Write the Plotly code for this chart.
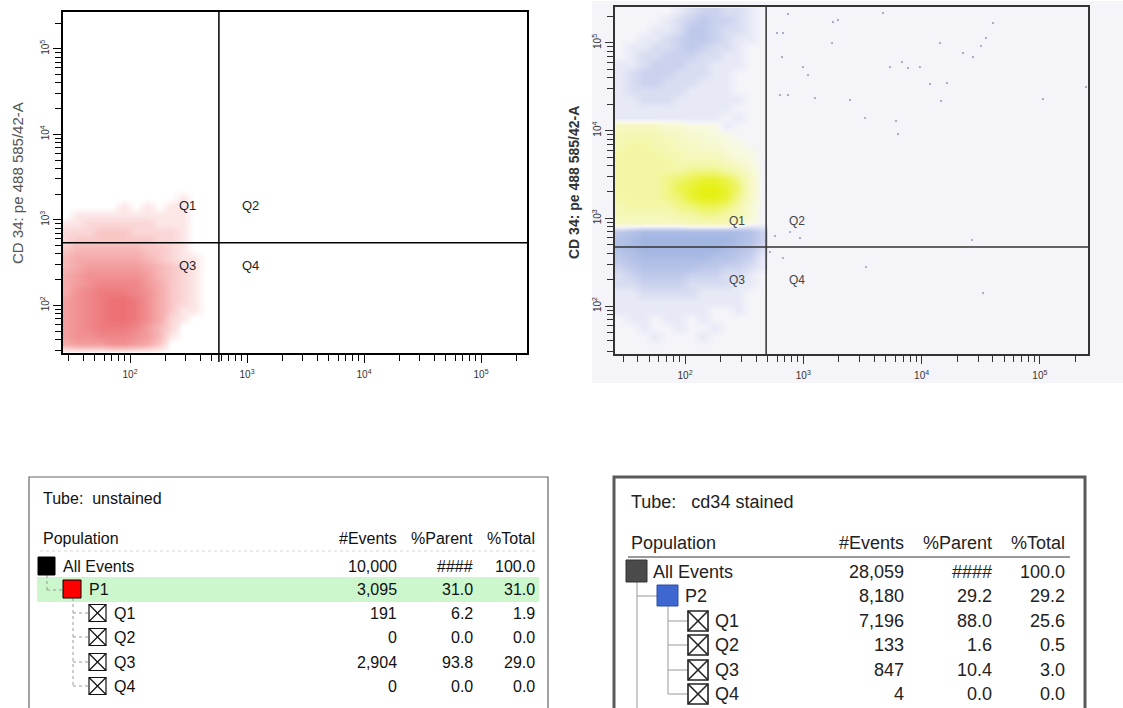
import numpy as np
import plotly.graph_objects as go

W, H = 1123, 708

# ------------------------------------------------------------------ data
# axis ticks (log10 units of fluorescence intensity)
decade_ticks = [2, 3, 4, 5]
decade_labels = ["10<sup>2</sup>", "10<sup>3</sup>", "10<sup>4</sup>", "10<sup>5</sup>"]
minor_tick_values = [30, 40, 50, 60, 70, 80, 90,
                     200, 300, 400, 500, 600, 700, 800, 900,
                     2000, 3000, 4000, 5000, 6000, 7000, 8000, 9000,
                     20000, 30000, 40000, 50000, 60000, 70000, 80000, 90000,
                     200000]

# ---- unstained tube: event density (relative, 0-10) on a 0.1-decade grid
red_x = [1.45, 1.55, 1.65, 1.75, 1.85, 1.95, 2.05, 2.15, 2.25, 2.35, 2.45, 2.55, 2.65]
red_y = [1.45, 1.55, 1.65, 1.75, 1.85, 1.95, 2.05, 2.15, 2.25, 2.35,
         2.45, 2.55, 2.65, 2.75, 2.85, 2.95, 3.05, 3.15, 3.25, 3.35]
red_density = [
    [0, 0, 0, 0, 0, 0, 0, 0, 0, 0, 0, 0, 0],
    [5, 6, 6, 6, 7, 7, 6, 5, 3, 0, 0, 0, 0],
    [6, 7, 7, 8, 8, 8, 7, 6, 4, 1, 0, 0, 0],
    [6, 7, 8, 9, 9, 9, 8, 6, 4, 2, 0, 0, 0],
    [6, 7, 8, 9, 10, 10, 9, 7, 5, 2, 1, 0, 0],
    [6, 7, 8, 9, 10, 10, 9, 7, 5, 3, 1, 1, 0],
    [6, 7, 8, 9, 10, 10, 9, 7, 5, 3, 2, 1, 0],
    [5, 7, 8, 9, 9, 9, 8, 7, 5, 3, 2, 1, 0],
    [5, 6, 7, 8, 8, 8, 8, 6, 5, 3, 2, 1, 0],
    [5, 6, 7, 7, 7, 7, 7, 6, 4, 3, 2, 1, 0],
    [4, 5, 6, 6, 6, 6, 6, 5, 4, 3, 2, 1, 0],
    [4, 5, 5, 5, 5, 5, 5, 4, 3, 2, 1, 1, 0],
    [3, 4, 4, 4, 4, 4, 4, 3, 3, 2, 1, 0, 0],
    [2, 3, 3, 3, 3, 3, 3, 3, 2, 2, 1, 0, 0],
    [2, 2, 2, 3, 3, 3, 2, 2, 2, 2, 1, 0, 0],
    [1, 1, 2, 2, 2, 2, 2, 2, 1, 1, 1, 0, 0],
    [0, 1, 1, 1, 1, 1, 1, 1, 1, 1, 1, 0, 0],
    [0, 0, 0, 0, 0, 1, 0, 1, 0, 1, 1, 0, 0],
    [0, 0, 0, 0, 0, 0, 0, 0, 0, 0, 1, 0, 0],
    [0, 0, 0, 0, 0, 0, 0, 0, 0, 0, 0, 0, 0],
]
unstained_gate_x = 575
unstained_gate_y = 540

# ---- cd34 stained tube
stain_x = [1.45, 1.55, 1.65, 1.75, 1.85, 1.95, 2.05, 2.15, 2.25, 2.35, 2.45, 2.55, 2.65]
blue_top_y = [3.95, 4.05, 4.15, 4.25, 4.35, 4.45, 4.55, 4.65, 4.75, 4.85,
              4.95, 5.05, 5.15, 5.25, 5.35]
blue_top_density = [
    [0, 0, 0, 0, 0, 0, 0, 0, 0, 0, 0, 0, 0],
    [1, 1, 1, 1, 1, 1, 1, 1, 0, 1, 0, 0, 0],
    [1, 1, 1, 1, 1, 1, 1, 1, 1, 0, 1, 0, 0],
    [1, 1, 1, 1, 1, 1, 1, 1, 1, 1, 0, 0, 0],
    [1, 1, 2, 2, 2, 1, 1, 1, 1, 1, 1, 0, 0],
    [1, 2, 2, 2, 2, 2, 1, 1, 1, 1, 0, 0, 0],
    [1, 2, 3, 3, 2, 2, 2, 1, 1, 1, 0, 0, 0],
    [1, 2, 3, 3, 3, 2, 2, 2, 1, 1, 0, 0, 0],
    [1, 1, 2, 3, 3, 3, 2, 2, 1, 1, 1, 0, 0],
    [0, 1, 2, 2, 3, 3, 3, 2, 2, 1, 1, 0, 0],
    [0, 1, 1, 2, 2, 3, 4, 3, 2, 2, 1, 0, 0],
    [0, 0, 1, 1, 2, 3, 4, 4, 3, 2, 1, 1, 0],
    [0, 0, 0, 1, 1, 2, 4, 4, 3, 2, 2, 1, 0],
    [0, 0, 0, 0, 1, 2, 3, 4, 3, 3, 2, 1, 0],
    [0, 0, 0, 0, 0, 1, 2, 3, 3, 2, 2, 1, 0],
]
yellow_y = [2.85, 2.95, 3.05, 3.15, 3.25, 3.35, 3.45, 3.55, 3.65, 3.75, 3.85, 3.95, 4.05]
yellow_density = [
    [1, 1, 1, 1, 1, 1, 1, 1, 1, 1, 1, 0, 0],
    [3, 3, 3, 3, 3, 3, 4, 4, 4, 4, 3, 1, 0],
    [4, 4, 4, 4, 4, 5, 5, 6, 6, 5, 4, 2, 0],
    [4, 5, 5, 5, 5, 6, 7, 8, 8, 7, 5, 2, 0],
    [5, 5, 5, 5, 6, 7, 9, 10, 10, 9, 6, 3, 0],
    [5, 5, 5, 5, 6, 8, 9, 10, 10, 9, 7, 3, 0],
    [5, 5, 5, 5, 6, 7, 8, 9, 9, 8, 6, 3, 0],
    [5, 5, 5, 5, 5, 5, 6, 6, 6, 5, 4, 2, 0],
    [5, 5, 5, 5, 5, 4, 4, 4, 4, 3, 2, 1, 0],
    [5, 5, 5, 5, 4, 4, 3, 3, 3, 2, 1, 1, 0],
    [4, 5, 5, 4, 4, 3, 3, 2, 2, 1, 1, 0, 0],
    [4, 4, 4, 4, 3, 3, 2, 2, 1, 1, 0, 0, 0],
    [3, 3, 3, 3, 2, 2, 1, 1, 1, 0, 0, 0, 0],
]
blue_low_y = [1.55, 1.65, 1.75, 1.85, 1.95, 2.05, 2.15, 2.25, 2.35, 2.45,
              2.55, 2.65, 2.75, 2.85, 2.95]
blue_low_density = [
    [0, 0, 0, 0, 0, 0, 0, 0, 0, 0, 0, 0, 0],
    [0, 0, 0, 1, 0, 0, 0, 1, 0, 0, 0, 0, 0],
    [0, 0, 1, 0, 0, 1, 0, 0, 1, 0, 0, 0, 0],
    [0, 1, 1, 0, 1, 1, 0, 1, 0, 0, 0, 0, 0],
    [1, 1, 1, 1, 1, 1, 1, 1, 0, 0, 1, 0, 0],
    [1, 1, 1, 1, 1, 1, 1, 1, 1, 1, 1, 0, 0],
    [1, 1, 2, 2, 2, 2, 2, 1, 1, 1, 1, 0, 0],
    [2, 2, 3, 3, 3, 3, 2, 2, 2, 2, 1, 1, 0],
    [2, 3, 4, 4, 4, 4, 3, 3, 3, 2, 2, 1, 0],
    [3, 4, 5, 5, 5, 5, 5, 4, 4, 3, 3, 2, 1],
    [4, 5, 6, 6, 6, 6, 6, 6, 5, 5, 4, 3, 1],
    [5, 6, 7, 7, 7, 7, 7, 7, 7, 6, 5, 4, 2],
    [5, 6, 7, 7, 7, 7, 7, 7, 7, 7, 6, 5, 3],
    [4, 5, 6, 6, 6, 6, 6, 6, 6, 6, 6, 5, 3],
    [1, 1, 1, 1, 1, 1, 1, 1, 1, 1, 1, 1, 0],
]
# scattered single events outside the P2 main clusters (log10 units)
sparse_x = [2.871, 2.778, 2.828, 2.820, 2.997, 3.040, 2.803, 2.871, 3.099, 3.251,
            3.293, 3.243, 3.395, 3.674, 4.156, 3.733, 3.834, 3.885, 3.986, 4.071,
            4.215, 4.164, 4.350, 4.435, 4.502, 4.544, 4.604, 3.522, 3.784, 3.801,
            5.026, 5.390, 4.426, 4.519, 3.530, 2.761, 2.888, 2.972, 2.718, 2.828]
sparse_y = [5.329, 5.113, 5.113, 4.839, 4.725, 4.634, 4.406, 4.406, 4.372, 5.238,
            5.261, 4.999, 4.349, 5.341, 4.999, 4.725, 4.782, 4.714, 4.725, 4.531,
            4.543, 4.338, 4.885, 4.839, 4.965, 5.056, 5.227, 4.144, 4.109, 3.961,
            4.360, 4.497, 2.753, 2.148, 2.445, 2.798, 2.844, 2.775, 2.616, 2.547]
stained_gate_x = 485
stained_gate_y = 470

# ---- statistics tables
table_headers = ["#Events", "%Parent", "%Total"]
unstained_names = ["All Events", "P1", "Q1", "Q2", "Q3", "Q4"]
unstained_events = ["10,000", "3,095", "191", "0", "2,904", "0"]
unstained_parent = ["####", "31.0", "6.2", "0.0", "93.8", "0.0"]
unstained_total = ["100.0", "31.0", "1.9", "0.0", "29.0", "0.0"]
stained_names = ["All Events", "P2", "Q1", "Q2", "Q3", "Q4"]
stained_events = ["28,059", "8,180", "7,196", "133", "847", "4"]
stained_parent = ["####", "29.2", "88.0", "1.6", "10.4", "0.0"]
stained_total = ["100.0", "29.2", "25.6", "0.5", "3.0", "0.0"]

# ------------------------------------------------------------------ helpers
SANS = "Liberation Sans, Arial, sans-serif"
NARROW = "Liberation Sans Narrow, Arial Narrow, Liberation Sans, Arial, sans-serif"
BG_RIGHT = "rgb(244,244,249)"


def PX(x):
    return x / W


def PY(y):
    return 1 - y / H


shapes = []
annotations = []


def text(x, y, s, size, anchor="left", color="#111", family=SANS):
    annotations.append(dict(x=PX(x), y=PY(y), xref="paper", yref="paper", text=s,
                            showarrow=False, xanchor=anchor, yanchor="middle",
                            font=dict(size=size, color=color, family=family)))


def rect(x0, y0, x1, y1, fill="rgba(0,0,0,0)", color="#000", width=1, layer="above"):
    shapes.append(dict(type="rect", xref="paper", yref="paper", x0=PX(x0), x1=PX(x1),
                       y0=PY(y0), y1=PY(y1), fillcolor=fill, layer=layer,
                       line=dict(color=color, width=width)))


def line(x0, y0, x1, y1, color="#000", width=1, dash="solid"):
    shapes.append(dict(type="line", xref="paper", yref="paper", x0=PX(x0), x1=PX(x1),
                       y0=PY(y0), y1=PY(y1), line=dict(color=color, width=width, dash=dash)))


def xbox(x0, y0, x1, y1, color, width):
    rect(x0, y0, x1, y1, fill="white", color=color, width=width)
    line(x0, y0, x1, y1, color, width)
    line(x0, y1, x1, y0, color, width)


# ------------------------------------------------------------------ figure
fig = go.Figure()

red_scale = [[0.0, "rgb(255,255,255)"], [0.1, "rgb(252,230,230)"],
             [0.4, "rgb(247,182,182)"], [0.7, "rgb(241,145,147)"],
             [1.0, "rgb(236,112,116)"]]
fig.add_trace(go.Heatmap(x=red_x, y=red_y, z=red_density, zmin=0, zmax=10,
                         colorscale=red_scale, zsmooth="best", showscale=False,
                         hoverinfo="skip", xaxis="x", yaxis="y"))

# combine stained populations into one signed grid (yellow > 0, blue < 0)
full_y = sorted(set(round(v, 2) for v in blue_top_y + yellow_y + blue_low_y))
index = {v: i for i, v in enumerate(full_y)}
blue = np.zeros((len(full_y), len(stain_x)))
yellow = np.zeros((len(full_y), len(stain_x)))
for ys, dens in ((blue_top_y, blue_top_density), (blue_low_y, blue_low_density)):
    for yv, row in zip(ys, dens):
        blue[index[round(yv, 2)]] += np.array(row)
for yv, row in zip(yellow_y, yellow_density):
    yellow[index[round(yv, 2)]] += np.array(row)
signed = np.where(yellow >= blue, yellow, -blue)

stain_scale = [[0.0, "rgb(130,155,215)"], [0.15, "rgb(162,182,226)"],
               [0.3, "rgb(190,200,234)"], [0.35, "rgb(202,210,238)"],
               [0.4, "rgb(216,221,241)"], [0.45, "rgb(231,233,246)"],
               [0.5, BG_RIGHT],
               [0.55, "rgb(248,249,224)"], [0.65, "rgb(246,248,195)"],
               [0.75, "rgb(243,247,165)"], [0.9, "rgb(236,243,80)"],
               [1.0, "rgb(230,240,20)"]]
fig.add_trace(go.Heatmap(x=stain_x, y=full_y, z=signed, zmin=-10, zmax=10,
                         colorscale=stain_scale, zsmooth="best", showscale=False,
                         hoverinfo="skip", xaxis="x2", yaxis="y2"))
fig.add_trace(go.Scatter(x=sparse_x, y=sparse_y, mode="markers",
                         marker=dict(size=2.2, color="rgba(125,135,172,0.75)"),
                         hoverinfo="skip", showlegend=False, xaxis="x2", yaxis="y2"))

minor_log = list(np.log10(minor_tick_values))


def axis(domain, rng, color, anchor, vertical=False):
    d = dict(domain=domain, range=rng, anchor=anchor, showline=True, linecolor=color,
             linewidth=1.6, mirror=True, ticks="outside", ticklen=8, tickwidth=1,
             tickcolor=color, tickmode="array", tickvals=decade_ticks,
             ticktext=decade_labels,
             tickfont=dict(size=10, color="#333", family=SANS),
             showgrid=False, zeroline=False, fixedrange=True,
             minor=dict(tickmode="array", tickvals=minor_log, ticks="outside",
                        ticklen=6, tickwidth=1, tickcolor=color, showgrid=False))
    if vertical:
        d["tickangle"] = -90
    else:
        d["ticklabelstandoff"] = 3
    return d


L_X = [1.427, 5.393]
L_Y = [1.442, 5.43]
R_X = [1.408, 5.407]
R_Y = [1.453, 5.41]

# background of the stained panel
rect(592, 1, 1123, 383, fill=BG_RIGHT, color=BG_RIGHT, width=0, layer="below")

# quadrant gates
gx = np.log10(unstained_gate_x)
gy = np.log10(unstained_gate_y)
shapes.append(dict(type="line", xref="x", yref="paper", x0=gx, x1=gx, y0=PY(362), y1=PY(12),
                   line=dict(color="black", width=1.5)))
shapes.append(dict(type="line", xref="x", yref="y", x0=L_X[0], x1=L_X[1], y0=gy, y1=gy,
                   line=dict(color="black", width=1.5)))
sgx = np.log10(stained_gate_x)
sgy = np.log10(stained_gate_y)
shapes.append(dict(type="line", xref="x2", yref="y2", x0=sgx, x1=sgx, y0=R_Y[0], y1=R_Y[1],
                   line=dict(color="#333", width=1.5)))
shapes.append(dict(type="line", xref="x2", yref="y2", x0=R_X[0], x1=R_X[1], y0=sgy, y1=sgy,
                   line=dict(color="#333", width=1.5)))

# quadrant labels
for lab, xv, yv in (("Q1", 2.487, 3.163), ("Q2", 3.026, 3.163),
                    ("Q3", 2.487, 2.465), ("Q4", 3.026, 2.465)):
    annotations.append(dict(x=xv, y=yv, xref="x", yref="y", text=lab, showarrow=False,
                            xanchor="center", yanchor="middle",
                            font=dict(size=13, color="#222", family=NARROW)))
for lab, xv, yv in (("Q1", 2.44, 2.97), ("Q2", 2.947, 2.97),
                    ("Q3", 2.44, 2.296), ("Q4", 2.947, 2.296)):
    annotations.append(dict(x=xv, y=yv, xref="x2", yref="y2", text=lab, showarrow=False,
                            xanchor="center", yanchor="middle",
                            font=dict(size=12, color="#444", family=SANS)))

# axis titles
title_txt = "CD 34: pe 488 585/42-A"
annotations.append(dict(x=PX(18), y=PY(183), xref="paper", yref="paper", text=title_txt,
                        textangle=-90, showarrow=False, xanchor="center", yanchor="middle",
                        font=dict(size=15, color="#555", family=SANS)))
annotations.append(dict(x=PX(574), y=PY(183), xref="paper", yref="paper",
                        text="<b>" + title_txt + "</b>", textangle=-90, showarrow=False,
                        xanchor="center", yanchor="middle",
                        font=dict(size=14, color="#333", family=SANS)))

# ------------------------------------------------------------------ table: unstained
rect(29, 477, 548, 720, color="#666", width=1.2)
text(41, 498, "Tube:\u00a0 unstained", 16)
text(41, 538, "Population", 16)
for hdr, xr in zip(table_headers, (399, 475, 537)):
    text(xr, 538, hdr, 16, anchor="right")
line(40, 551, 538, 551, color="#d6d6d6", width=1, dash="dot")
rows_l = [566, 589, 613, 637, 662, 686]
rect(37, 577, 539, 602, fill="rgb(204,246,204)", color="rgb(204,246,204)", width=0)
# tree
line(47, 575, 47, 590, color="#999", width=1, dash="dot")
line(47, 590, 63, 590, color="#999", width=1, dash="dot")
line(73, 598, 73, rows_l[5], color="#999", width=1, dash="dot")
for r in rows_l[2:]:
    line(73, r, 89, r, color="#999", width=1, dash="dot")
rect(38, 557, 55, 575, fill="black", color="black", width=1)
rect(63, 580, 81, 598, fill="#ff0000", color="black", width=1)
for r in rows_l[2:]:
    xbox(89, r - 8.5, 106, r + 8.5, "#111", 1.2)
name_x_l = [61, 87, 112, 112, 112, 112]
for i, r in enumerate(rows_l):
    text(name_x_l[i], r, unstained_names[i], 16)
    text(399, r, unstained_events[i], 16, anchor="right")
    text(475, r, unstained_parent[i], 16, anchor="right")
    text(537, r, unstained_total[i], 16, anchor="right")

# ------------------------------------------------------------------ table: stained
rect(614, 477, 1085, 720, color="#5a5a5a", width=3)
text(629, 502, "Tube:\u00a0\u00a0 cd34 stained", 18, color="#222")
text(629, 543, "Population", 18, color="#222")
for hdr, xr in zip(table_headers, (906, 994, 1067)):
    text(xr, 543, hdr, 18, anchor="right", color="#222")
line(628, 557, 1070, 557, color="#777", width=1.5)
rows_r = [572, 596, 621, 645, 670, 694]
line(637, 582, 637, 720, color="#999", width=1)
line(637, 596, 657, 596, color="#999", width=1)
line(668, 606, 668, rows_r[5], color="#999", width=1)
for r in rows_r[2:]:
    line(668, r, 688, r, color="#999", width=1)
rect(626, 560, 647, 582, fill="#4a4a4a", color="#333", width=1)
rect(657, 585, 678, 606, fill="#3f67d0", color="#2c4ea8", width=1)
for r in rows_r[2:]:
    xbox(688, r - 10, 708, r + 10, "#222", 1.6)
name_x_r = [651, 683, 713, 713, 713, 713]
for i, r in enumerate(rows_r):
    text(name_x_r[i], r, stained_names[i], 18, color="#222")
    text(906, r, stained_events[i], 18, anchor="right", color="#222")
    text(994, r, stained_parent[i], 18, anchor="right", color="#222")
    text(1067, r, stained_total[i], 18, anchor="right", color="#222")

fig.update_layout(
    width=W, height=H, autosize=False,
    margin=dict(l=0, r=0, t=0, b=0),
    paper_bgcolor="white", plot_bgcolor="rgba(0,0,0,0)",
    showlegend=False,
    xaxis=axis([PX(63), PX(527)], L_X, "black", "y"),
    yaxis=axis([PY(353), PY(12)], L_Y, "black", "x", vertical=True),
    xaxis2=axis([PX(615), PX(1088)], R_X, "#333", "y2"),
    yaxis2=axis([PY(354), PY(7)], R_Y, "#333", "x2", vertical=True),
    shapes=shapes,
    annotations=annotations,
)

fig.write_html("out.html", config={"displayModeBar": False},
               post_script="document.body.style.margin='0px';"
                           "document.body.style.padding='0px';"
                           "document.body.style.overflow='hidden';")
